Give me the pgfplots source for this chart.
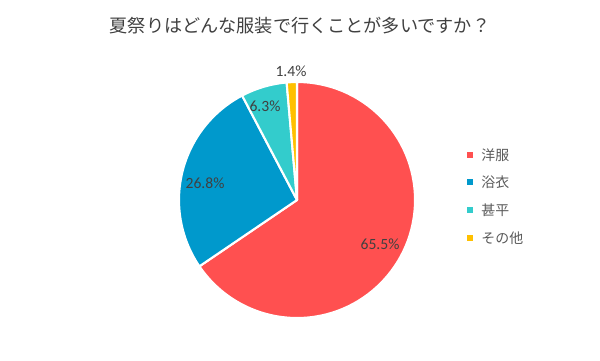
\documentclass[border=0pt]{standalone}
\usepackage{fontspec}
\setmainfont{Carlito}
\newfontfamily\jp{Noto Sans CJK JP}
\usepackage{pgfplots}
\pgfplotsset{compat=1.18}
\definecolor{cRed}{HTML}{FF5050}
\definecolor{cBlue}{HTML}{0099CC}
\definecolor{cTeal}{HTML}{33CCCC}
\definecolor{cYellow}{HTML}{FFC000}
\definecolor{tDark}{HTML}{404040}
\definecolor{tGray}{HTML}{595959}
\begin{document}
\begin{tikzpicture}
\begin{axis}[
  scale only axis, width=10cm, height=6cm,
  xmin=0, xmax=600, ymin=0, ymax=360,
  hide axis, clip=false,
]
\addplot[draw=none] coordinates {(0,0) (600,360)};
\pgfplotsextra{%
  \gdef\cum{0}%
  \def\R{1.9667cm}%
  \foreach \v/\col in {65.5/cRed,26.8/cBlue,6.3/cTeal,1.4/cYellow}{%
    \pgfmathsetmacro\a{90-3.6*\cum}%
    \pgfmathsetmacro\b{90-3.6*(\cum+\v)}%
    \fill[\col, draw=white, line width=1pt, line join=round]
      (axis cs:297,160) -- ++(\a:\R) arc[start angle=\a, end angle=\b, radius=\R] -- cycle;
    \pgfmathsetmacro\n{\cum+\v}\xdef\cum{\n}%
  }%
}
% data labels
\node[font=\fontsize{7.4}{9}\selectfont, text=tDark] at (axis cs:380,116) {65.5\%};
\node[font=\fontsize{7.4}{9}\selectfont, text=tDark] at (axis cs:205,177) {26.8\%};
\node[font=\fontsize{7.4}{9}\selectfont, text=tDark] at (axis cs:265,254) {6.3\%};
\node[font=\fontsize{7.4}{9}\selectfont, text=tDark] at (axis cs:291,289) {1.4\%};
% title
\node[font=\jp\fontsize{8.6}{10}\selectfont, text=tDark] at (axis cs:300,334) {夏祭りはどんな服装で行くことが多いですか？};
% legend
\fill[cRed] (axis cs:467,202) rectangle (axis cs:473,208);
\node[anchor=west, font=\jp\fontsize{6.6}{8}\selectfont, text=tGray, inner sep=0pt] at (axis cs:481,205) {洋服};
\fill[cBlue] (axis cs:467,175) rectangle (axis cs:473,181);
\node[anchor=west, font=\jp\fontsize{6.6}{8}\selectfont, text=tGray, inner sep=0pt] at (axis cs:481,178) {浴衣};
\fill[cTeal] (axis cs:467,147) rectangle (axis cs:473,153);
\node[anchor=west, font=\jp\fontsize{6.6}{8}\selectfont, text=tGray, inner sep=0pt] at (axis cs:481,150) {甚平};
\fill[cYellow] (axis cs:467,119) rectangle (axis cs:473,125);
\node[anchor=west, font=\jp\fontsize{6.6}{8}\selectfont, text=tGray, inner sep=0pt] at (axis cs:481,122) {その他};
\end{axis}
\end{tikzpicture}
\end{document}
